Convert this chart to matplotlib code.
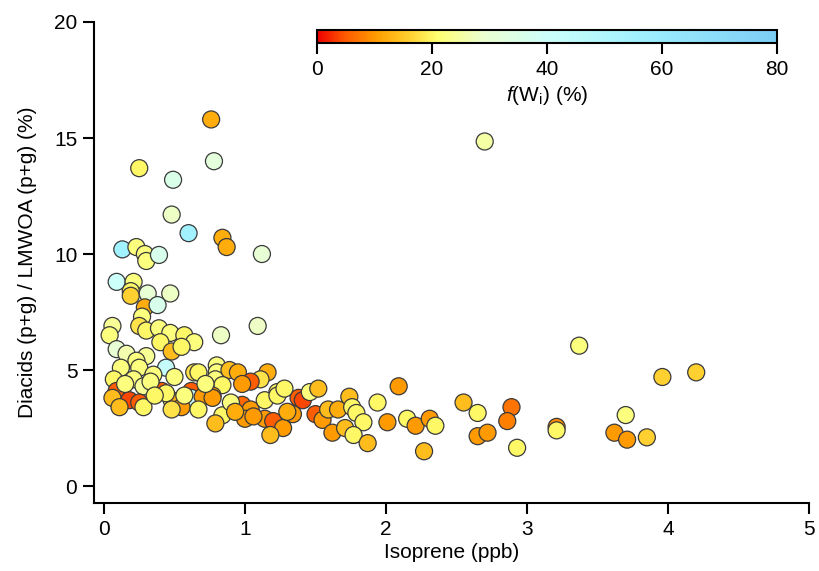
import numpy as np
import matplotlib
matplotlib.use("Agg")
import matplotlib.pyplot as plt
from matplotlib.colors import LinearSegmentedColormap, Normalize

plt.rcParams['font.family'] = ['Liberation Sans', 'DejaVu Sans']
plt.rcParams['mathtext.fontset'] = 'custom'
plt.rcParams['mathtext.rm'] = 'Liberation Sans'
plt.rcParams['mathtext.it'] = 'Liberation Sans:italic'

# ── data ────────────────────────────────────────────────────
isoprene = [
    0.76, 0.78, 0.25, 0.49, 0.48, 0.60, 0.84, 0.87, 1.12, 2.70,
    0.13, 0.23, 0.29, 0.30, 0.39,
    0.09, 0.21, 0.19, 0.19, 0.31, 0.47,
    0.29, 0.38, 0.27, 0.06, 0.25,
    0.04, 0.30, 0.39, 0.47, 0.57, 0.64, 0.40, 0.09, 0.16, 0.30, 0.48, 0.55,
    0.23, 0.12, 0.25, 0.44, 0.35, 0.50, 0.64, 0.07, 0.21, 0.28, 0.09, 0.39,
    0.41, 0.62, 0.62, 0.06, 0.18, 0.25, 0.48, 0.52, 0.11, 0.28, 0.55, 0.48,
    0.83, 1.09, 0.80, 0.67, 0.80, 0.79, 0.89, 0.95, 1.16, 1.11, 1.04, 0.98,
    0.84, 1.23, 1.38, 0.77, 0.70,
    0.77, 0.84, 0.79, 0.98, 1.04, 1.00, 1.14, 1.23, 1.14, 1.20, 1.27, 1.18,
    1.34, 1.41,
    1.46, 1.52, 1.50, 1.55, 1.59, 1.66, 1.62, 1.74, 1.76, 1.79, 1.84, 1.71,
    1.77, 1.87, 1.94, 2.01, 2.09, 2.15,
    2.21, 2.31, 2.35, 2.27, 2.55, 2.65, 2.65, 2.72, 2.89, 2.86, 2.93, 3.21,
    3.21,
    3.37, 3.96, 4.20, 3.70, 3.62, 3.71, 3.85,
    0.44, 0.57, 0.67, 0.90, 0.93, 1.06, 1.30, 0.72, 1.28, 0.15, 0.33, 0.36,
]
diacid_ratio = [
    15.8, 14.0, 13.7, 13.2, 11.7, 10.9, 10.7, 10.3, 10.0, 14.85,
    10.2, 10.3, 10.0, 9.7, 9.96,
    8.8, 8.8, 8.4, 8.2, 8.3, 8.3,
    7.7, 7.8, 7.3, 6.9, 6.9,
    6.5, 6.7, 6.8, 6.6, 6.5, 6.2, 6.2, 5.9, 5.7, 5.6, 5.8, 6.0,
    5.4, 5.1, 5.1, 5.1, 4.8, 4.7, 4.9, 4.6, 4.6, 4.3, 4.1, 4.1,
    4.1, 4.1, 3.8, 3.8, 3.7, 3.6, 3.7, 3.6, 3.4, 3.4, 3.4, 3.3,
    6.5, 6.9, 5.2, 4.9, 4.9, 4.6, 5.0, 4.9, 4.9, 4.6, 4.5, 4.4,
    4.35, 4.05, 3.8, 3.9, 3.85,
    3.8, 3.05, 2.7, 3.5, 3.3, 2.9, 3.7, 3.9, 2.9, 2.8, 2.5, 2.2,
    3.1, 3.7,
    4.05, 4.2, 3.1, 2.85, 3.3, 3.3, 2.3, 3.85, 3.4, 3.15, 2.75, 2.5,
    2.2, 1.85, 3.6, 2.75, 4.3, 2.9,
    2.6, 2.9, 2.6, 1.5, 3.6, 3.15, 2.15, 2.3, 3.4, 2.8, 1.65, 2.55,
    2.4,
    6.05, 4.7, 4.9, 3.06, 2.3, 2.0, 2.1,
    4.0, 3.9, 3.3, 3.6, 3.2, 3.0, 3.2, 4.4, 4.2, 4.4, 4.5, 3.9,
]
f_wi = [
    12, 32, 20, 35, 28, 55, 12, 12, 30, 25,
    55, 22, 22, 22, 36,
    40, 22, 20, 16, 30, 28,
    12, 36, 22, 24, 18,
    22, 20, 22, 22, 20, 22, 20, 30, 26, 24, 14, 20,
    22, 22, 22, 42, 22, 22, 18, 20, 22, 24, 5, 22,
    5, 5, 40, 14, 4, 5, 20, 12, 14, 20, 10, 18,
    28, 28, 22, 20, 22, 22, 14, 12, 12, 18, 5, 10,
    20, 20, 5, 10, 10,
    10, 20, 14, 6, 10, 10, 20, 20, 10, 5, 10, 14,
    10, 4,
    22, 14, 5, 10, 14, 12, 10, 14, 20, 20, 20, 14,
    20, 14, 20, 10, 10, 20,
    10, 10, 20, 14, 14, 20, 10, 10, 7, 8, 20, 9,
    20,
    22, 16, 16, 22, 10, 10, 16,
    20, 22, 20, 22, 12, 10, 12, 22, 20, 22, 22, 20,
]

f_ticks = [0, 20, 40, 60, 80]

# red -> orange -> yellow -> pale green -> pale cyan -> light blue
cmap = LinearSegmentedColormap.from_list("igor", [
    (0.00, "#ee0000"),
    (0.06, "#ff5a00"),
    (0.13, "#ff9f00"),
    (0.20, "#ffd030"),
    (0.26, "#ffff70"),
    (0.36, "#ecffd0"),
    (0.50, "#ccfffa"),
    (0.70, "#a0f0ff"),
    (1.00, "#7ccdf5"),
])
norm = Normalize(vmin=0, vmax=80)

fig = plt.figure(figsize=(8.2, 5.71), dpi=100)
ax = fig.add_axes([0.1146, 0.1191, 0.872, 0.8424])

ax.scatter(isoprene, diacid_ratio, c=f_wi, cmap=cmap, norm=norm, s=150,
           edgecolors="#3a3a3a", linewidths=0.9, zorder=3)

ax.set_xlim(-0.071, 5.0)
ax.set_ylim(-0.73, 20.0)
ax.set_xticks([0, 1, 2, 3, 4, 5])
ax.set_yticks([0, 5, 10, 15, 20])
for s in ["top", "right"]:
    ax.spines[s].set_visible(False)
for s in ["left", "bottom"]:
    ax.spines[s].set_linewidth(1.5)
ax.tick_params(axis="both", direction="out", length=8, width=1.5,
               labelsize=15, pad=4)
ax.set_xlabel("Isoprene (ppb)", fontsize=15, labelpad=3)
ax.set_ylabel("Diacids (p+g) / LMWOA (p+g) (%)", fontsize=15, labelpad=12)

# colour bar across the top
cax = fig.add_axes([0.3866, 0.9247, 0.561, 0.0228])
sm = plt.cm.ScalarMappable(cmap=cmap, norm=norm)
cb = fig.colorbar(sm, cax=cax, orientation="horizontal", ticks=f_ticks)
cb.outline.set_linewidth(1.5)
cb.ax.tick_params(direction="out", length=8, width=1.5, labelsize=15, pad=4)
cb.set_label(r"$f$(W$_{\mathrm{i}}$) (%)", fontsize=15, labelpad=4)

fig.savefig("out.png", dpi=100)
